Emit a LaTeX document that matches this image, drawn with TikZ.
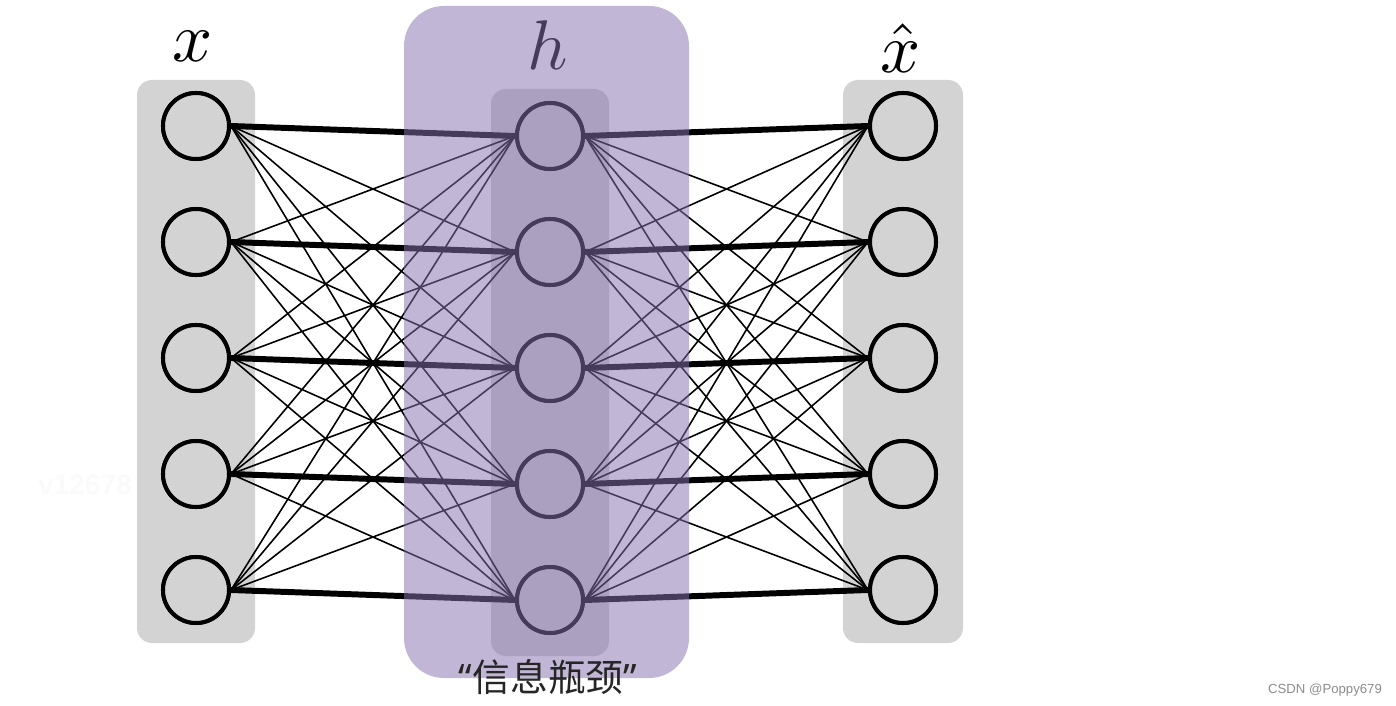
\documentclass[tikz,border=0pt]{standalone}
\usepackage{fontspec}
\newfontfamily\cjkfont{Noto Sans CJK SC}
\newfontfamily\quotefont{Noto Sans}
\newfontfamily\markfont{Liberation Sans}
\usetikzlibrary{positioning,calc}
\definecolor{layergray}{RGB}{211,211,211}
\definecolor{bottleneck}{RGB}{138,115,177}

\begin{document}
\begin{tikzpicture}[x=0.02cm,y=-0.02cm]
  \tikzstyle{layer}=[fill=layergray,rounded corners=0.3cm]
  \tikzstyle{unit}=[circle,draw,line width=2.3pt,fill=layergray,minimum size=1.32cm,inner sep=0pt]
  \tikzstyle{weak}=[line width=0.9pt]
  \tikzstyle{strong}=[line width=3.4pt]
  \useasboundingbox (0,0) rectangle (1396,706);
  % layers
  \fill[layer] (137,80) rectangle (255,643);
  \fill[layer] (491,89) rectangle (609,656);
  \fill[layer] (843,80) rectangle (963,643);
  \foreach \i in {1,...,5} {
    \node[unit] (in\i) at (196,{126+116*(\i-1)}) {};
    \node[unit] (code\i) at (550,{136+116*(\i-1)}) {};
    \node[unit] (out\i) at (903,{126+116*(\i-1)}) {};
  }
  % weights
  \foreach \i in {1,...,5}
    \foreach \j in {1,...,5} {
      \draw[weak] (in\i.east) -- (code\j.west);
      \draw[weak] (code\i.east) -- (out\j.west);
    }
  \foreach \i in {1,...,5} {
    \draw[strong] (in\i.east) -- (code\i.west);
    \draw[strong] (code\i.east) -- (out\i.west);
  }
  % redraw units over the line ends
  \foreach \i in {1,...,5} {
    \node[unit] at (in\i) {};
    \node[unit] at (code\i) {};
    \node[unit] at (out\i) {};
  }
  \node[scale=4,anchor=base] (hlab) at (548,70) {$h$};
  % bottleneck overlay
  \fill[bottleneck,fill opacity=0.52,rounded corners=0.8cm] (404,6) rectangle (689,678);
  \node[scale=4,anchor=base] (xlab) at (193,62) {$x$};
  \node[scale=4,anchor=base] (xhatlab) at (901,73) {$\hat{x}$};
  \node[text=black!85,font=\fontsize{21.5}{24}\selectfont] (neck) at (548,677)
    {{\quotefont “}{\cjkfont 信息瓶颈}{\quotefont ”}};
  \node[text=black!2,font=\markfont\bfseries\fontsize{16}{18}\selectfont] (faint) at (85,485) {v12678};
  \node[text=black!45,font=\markfont\fontsize{7.5}{9}\selectfont] (credit) at (1325,690) {CSDN @Poppy679};
\end{tikzpicture}
\end{document}
